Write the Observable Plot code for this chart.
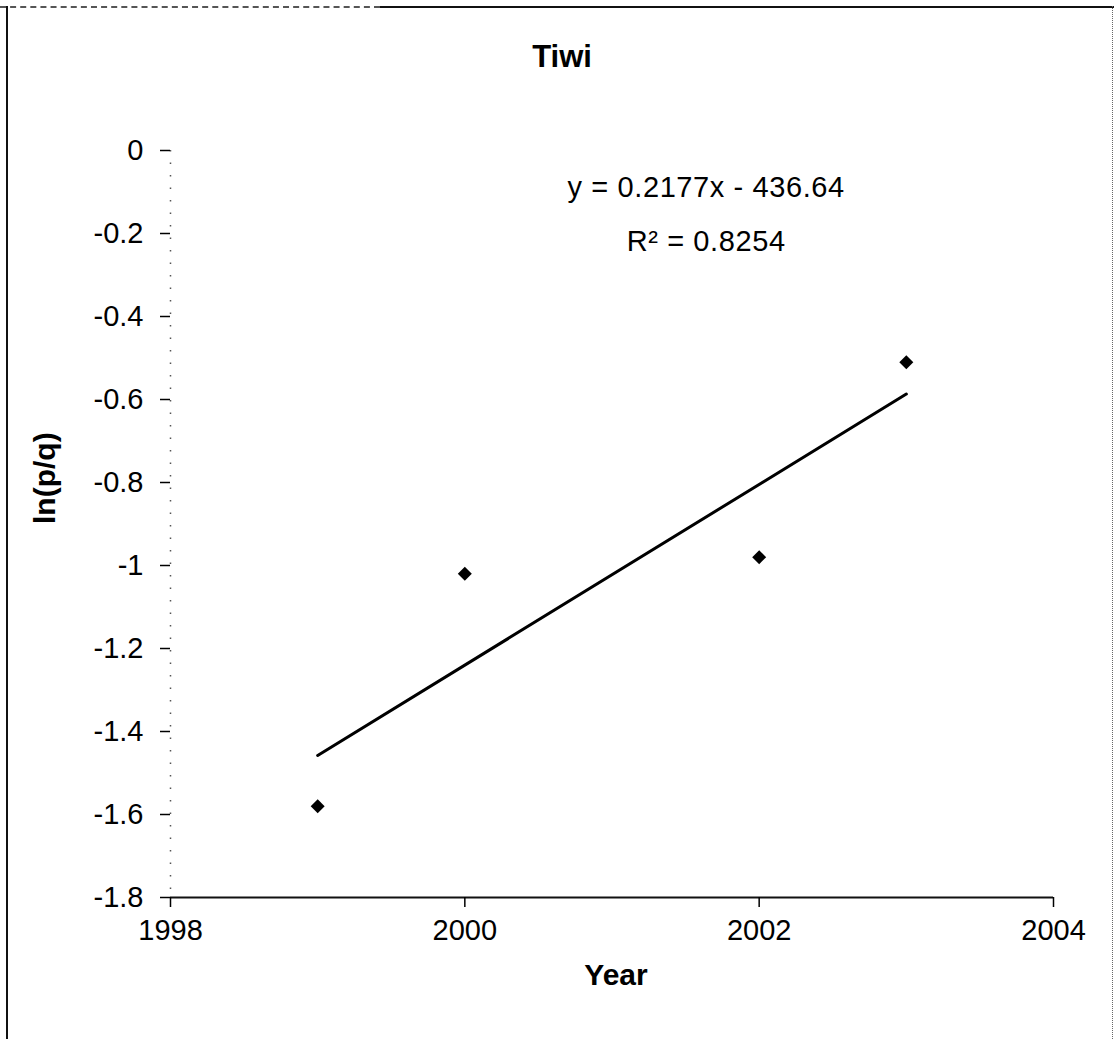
<!DOCTYPE html>
<html><head><meta charset="utf-8">
<script src="https://cdn.jsdelivr.net/npm/d3@7"></script>
<script src="https://cdn.jsdelivr.net/npm/@observablehq/plot@0.6"></script>
<style>
body{margin:0;background:#fff;}
#wrap{position:relative;width:1118px;height:1039px;overflow:hidden;font-family:"Liberation Sans",Arial,sans-serif;color:#000;background:#fff;}
#title{position:relative;height:100px;}
#title span{position:absolute;left:562px;top:41px;transform:translateX(-50%);font-size:31px;line-height:31px;font-weight:bold;white-space:nowrap;}
#chart svg{display:block;}
.eq text{letter-spacing:0.6px;}
.b{position:absolute;}
</style></head><body>
<div id="wrap">
<div id="title"><span id="titleText"></span></div>
<div id="chart"></div>
<div class="b" style="left:6px;top:6px;width:2px;height:1033px;background:#111"></div>
<div class="b" style="left:0px;top:6px;width:380px;height:0;border-top:2px dashed #555"></div>
<div class="b" style="left:380px;top:6px;width:734px;height:2px;background:#111"></div>
<div class="b" style="left:1112px;top:6px;width:0;height:1033px;border-left:1.5px dotted #666"></div>
</div>
<script>
// ---- data ----
const chartTitle = "Tiwi";
const xLabel = "Year";
const yLabel = "ln(p/q)";
const years = [1999, 2000, 2002, 2003];
const lnpq = [-1.58, -1.02, -0.98, -0.51];
const xTicks = [1998, 2000, 2002, 2004];
const xTickLabels = ["1998", "2000", "2002", "2004"];
const yTicks = [0, -0.2, -0.4, -0.6, -0.8, -1, -1.2, -1.4, -1.6, -1.8];
const yTickLabels = ["0", "-0.2", "-0.4", "-0.6", "-0.8", "-1", "-1.2", "-1.4", "-1.6", "-1.8"];
const trendSlope = 0.2177;
const trendIntercept = -436.64;
const rSquared = 0.8254;
const trendYears = [1999, 2003];
const eqLines = [`y = ${trendSlope}x - ${Math.abs(trendIntercept)}`, `R\u00B2 = ${rSquared}`];
const eqX = 2001.64;
const eqY = [-0.113, -0.243];

// ---- build ----
document.getElementById("titleText").textContent = chartTitle;
const points = years.map((year, i) => ({year, value: lnpq[i]}));
const trend = trendYears.map(year => ({year, value: trendSlope * year + trendIntercept}));
const eq = eqLines.map((t, i) => ({t, x: eqX, y: eqY[i]}));
const xMap = new Map(xTicks.map((t, i) => [t, xTickLabels[i]]));
const yMap = new Map(yTicks.map((t, i) => [t, yTickLabels[i]]));
const fs = 29;

const chart = Plot.plot({
  width: 1118,
  height: 939,
  marginTop: 50,
  marginLeft: 170,
  marginRight: 65,
  marginBottom: 142,
  style: {fontFamily: "'Liberation Sans', Arial, sans-serif", color: "#000", background: "#fff", overflow: "visible"},
  x: {domain: [1998, 2004]},
  y: {domain: [-1.8, 0]},
  marks: [
    Plot.ruleX([1998], {stroke: "#555", strokeWidth: 1.5, strokeDasharray: "1.5,11"}),
    Plot.ruleY([-1.8], {stroke: "#111", strokeWidth: 2}),
    Plot.axisY({ticks: yTicks, tickFormat: d => yMap.get(d), tickSize: 10, tickPadding: 17, fontSize: fs, strokeWidth: 1.5, label: null}),
    Plot.axisX({ticks: xTicks, tickFormat: d => xMap.get(d), tickSize: 10, tickPadding: 12, fontSize: fs, strokeWidth: 1.5, label: null}),
    Plot.line(trend, {x: "year", y: "value", stroke: "#000", strokeWidth: 3}),
    Plot.dot(points, {x: "year", y: "value", symbol: "diamond2", r: 6.3, fill: "#000", stroke: "none"}),
    Plot.text(eq, {x: "x", y: "y", text: "t", fontSize: 29, textAnchor: "middle", lineAnchor: "bottom", className: "eq"}),
    Plot.text([xLabel], {frameAnchor: "bottom", dy: 78, dx: 4, fontSize: 30, fontWeight: "bold", lineAnchor: "middle"}),
    Plot.text([yLabel], {frameAnchor: "left", dx: -125, rotate: -90, fontSize: 30, fontWeight: "bold", lineAnchor: "middle"})
  ]
});
document.getElementById("chart").appendChild(chart);
</script>
</body></html>
